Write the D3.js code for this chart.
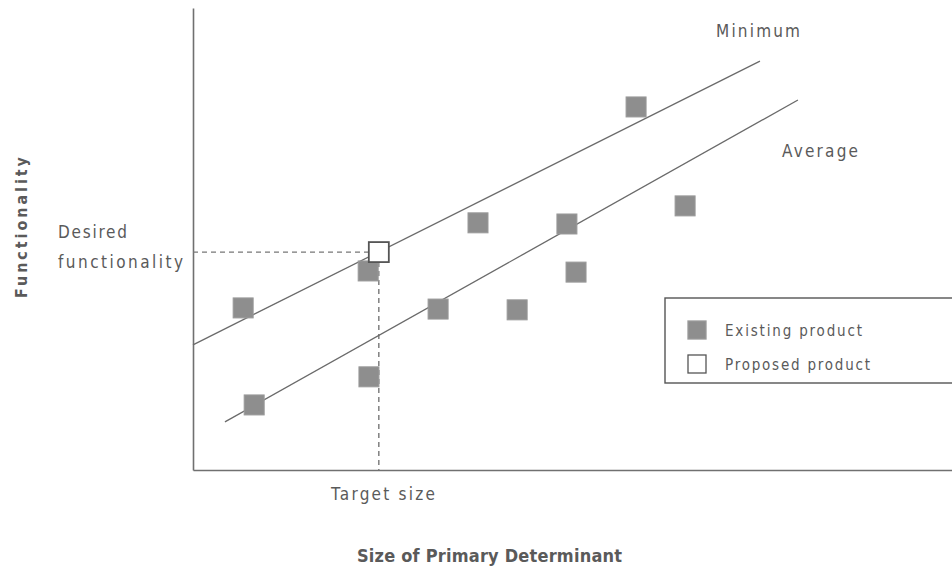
<!DOCTYPE html>
<html><head><meta charset="utf-8">
<script src="https://cdn.jsdelivr.net/npm/d3@7"></script>
<style>html,body{margin:0;padding:0;background:#fff;}svg{display:block;}</style>
</head><body>
<svg id="c" width="952" height="574"></svg>
<script>
// Data (abstract units)
const existingX = [1.32, 4.61, 4.63, 1.61, 6.45, 7.5, 8.53, 9.84, 10.08, 11.66, 12.95];
const existingY = [4.21, 5.17, 2.42, 1.69, 4.18, 6.42, 4.16, 6.39, 5.14, 9.43, 6.86];
const proposedX = [4.89];
const proposedY = [5.66];
const minimumLineX = [0, 14.92];
const minimumLineY = [3.25, 10.62];
const averageLineX = [0.84, 15.92];
const averageLineY = [1.25, 9.61];
const targetSize = 4.89;
const desiredFunctionality = 5.66;
const legendLabels = ["Existing product", "Proposed product"];

const svg = d3.select("#c");
const x = d3.scaleLinear().domain([0, 20]).range([193, 953]);
const y = d3.scaleLinear().domain([0, 12]).range([470, 8]);
const font = "'DejaVu Sans Condensed', 'DejaVu Sans', sans-serif";
const txt = "#5a5a5a";

// axes
const xAxis = svg.append("g").attr("transform", `translate(0,${y(0)})`).call(d3.axisBottom(x).tickValues([]).tickSizeOuter(0));
xAxis.select(".domain").attr("stroke", "#707070").attr("stroke-width", 1.6);
const yAxis = svg.append("g").attr("transform", `translate(${x(0)},0)`).call(d3.axisLeft(y).tickValues([]).tickSizeOuter(0));
yAxis.select(".domain").attr("stroke", "#707070").attr("stroke-width", 1.6);

// dashed reference lines
svg.append("line").attr("x1", x(0)).attr("x2", x(targetSize) - 8)
  .attr("y1", y(desiredFunctionality)).attr("y2", y(desiredFunctionality))
  .attr("stroke", "#777").attr("stroke-width", 1.4).attr("stroke-dasharray", "5,4");
svg.append("line").attr("x1", x(targetSize)).attr("x2", x(targetSize))
  .attr("y1", y(desiredFunctionality) + 10).attr("y2", y(0))
  .attr("stroke", "#777").attr("stroke-width", 1.4).attr("stroke-dasharray", "5,4");

// trend lines
const line = d3.line().x(d => x(d[0])).y(d => y(d[1]));
svg.append("path").attr("d", line(minimumLineX.map((v, i) => [v, minimumLineY[i]])))
  .attr("fill", "none").attr("stroke", "#6a6a6a").attr("stroke-width", 1.3);
svg.append("path").attr("d", line(averageLineX.map((v, i) => [v, averageLineY[i]])))
  .attr("fill", "none").attr("stroke", "#6a6a6a").attr("stroke-width", 1.3);

const S = 20;
// existing products
svg.selectAll("rect.ex").data(existingX.map((v, i) => [v, existingY[i]])).join("rect")
  .attr("class", "ex")
  .attr("x", d => x(d[0]) - S / 2).attr("y", d => y(d[1]) - S / 2)
  .attr("width", S).attr("height", S)
  .attr("fill", "#8e8e8e").attr("stroke", "#9a9a9a").attr("stroke-width", 1);
// proposed
svg.selectAll("rect.pr").data(proposedX.map((v, i) => [v, proposedY[i]])).join("rect")
  .attr("class", "pr")
  .attr("x", d => x(d[0]) - S / 2).attr("y", d => y(d[1]) - S / 2)
  .attr("width", S).attr("height", S)
  .attr("fill", "#fff").attr("stroke", "#555").attr("stroke-width", 1.8);

// labels
function label(t, px, py, size, len, anchor, weight) {
  return svg.append("text").attr("x", px).attr("y", py).text(t)
    .attr("font-family", font).attr("font-size", size).attr("fill", txt)
    .attr("textLength", len).attr("lengthAdjust", "spacing")
    .attr("text-anchor", anchor || "start").attr("font-weight", weight || "normal");
}
label("Minimum", 716, 37, 17, 84);
label("Average", 782, 157, 17, 76);
label("Desired", 58, 238, 17, 69);
label("functionality", 58, 268, 17, 125);
label("Target size", 331, 500, 17, 104);
label("Size of Primary Determinant", 357, 562, 18, 265, "start", "bold");
svg.append("text").attr("transform", "translate(27,298) rotate(-90)")
  .attr("text-anchor", "start").attr("font-family", font).attr("font-size", 16)
  .attr("textLength", 141).attr("lengthAdjust", "spacing")
  .attr("font-weight", "bold").attr("fill", txt).text("Functionality");

// legend
svg.append("rect").attr("x", 665).attr("y", 298).attr("width", 300).attr("height", 85)
  .attr("fill", "#fff").attr("stroke", "#555").attr("stroke-width", 1.4);
const legendLens = [137, 145];
const lg = svg.selectAll("g.lg").data(legendLabels).join("g").attr("class", "lg")
  .attr("transform", (d, i) => `translate(688,${321 + i * 34})`);
lg.append("rect").attr("width", 18).attr("height", 18)
  .attr("fill", (d, i) => i === 0 ? "#8e8e8e" : "#fff")
  .attr("stroke", (d, i) => i === 0 ? "#9a9a9a" : "#555").attr("stroke-width", 1.3);
lg.append("text").attr("x", 37).attr("y", 15).text(d => d)
  .attr("textLength", (d, i) => legendLens[i]).attr("lengthAdjust", "spacing")
  .attr("font-family", font).attr("font-size", 15).attr("fill", txt);
</script>
</body></html>
